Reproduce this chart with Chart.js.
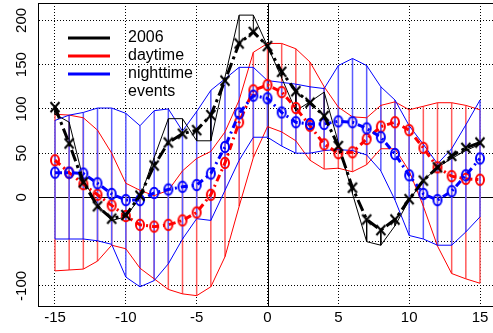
<!DOCTYPE html>
<html>
<head>
<meta charset="utf-8">
<script src="https://cdn.jsdelivr.net/npm/chart.js@4"></script>
<style>
  html, body { margin: 0; padding: 0; background: #fff; overflow: hidden; }
  canvas { display: block; }
</style>
</head>
<body>
<canvas id="myChart" width="497" height="333"></canvas>
<script>
const days = [-15, -14, -13, -12, -11, -10, -9, -8, -7, -6, -5, -4, -3, -2, -1, 0,
  1, 2, 3, 4, 5, 6, 7, 8, 9, 10, 11, 12, 13, 14, 15];

// centre lines
const events2006 = [102, 61, 17, -10, -24, -20, 2, 36, 62, 72, 76, 93, 132, 174, 187, 171,
  142, 120, 107, 92, 58, 11, -25, -37, -25, -2, 19, 34, 47, 56, 62];
const daytime = [42, 28, 15, 3, -9, -21, -31, -33, -31, -26, -17, 3, 39, 85, 121, 127,
  119, 101, 81, 60, 50, 51, 66, 80, 85, 76, 56, 34, 24, 21, 20];
const nighttime = [28, 28, 27, 16, 4, -3, -3, 5, 9, 12, 14, 27, 57, 95, 115, 112,
  96, 85, 83, 83, 86, 85, 78, 68, 49, 25, 4, -3, 7, 25, 44];

// ranges
const range2006 = [94, 85, 20, -8, -26, -22, 0, 45, 89, 89, 64, 64, 136, 206, 206, 171,
  135, 98, 108, 119, 62, 4, -50, -54, -32, -3, 19, 34, 44, 53, 60];
const dayHi = [94, 93, 90, 76, 50, 16, 8, 2, 8, 30, 44, 52, 74, 110, 164, 174,
  174, 168, 153, 125, 102, 91, 90, 104, 108, 99, 103, 107, 107, 104, 99];
const dayLo = [-83, -82, -81, -72, -54, -58, -80, -92, -104, -109, -111, -101, -67, -10, 45, 80,
  74, 64, 42, 32, 33, 29, 37, 55, 55, 30, -10, -55, -86, -92, -97];
const nightHi = [87, 93, 96, 101, 101, 95, 81, 98, 100, 75, 97, 121, 134, 147, 147, 132,
  130, 128, 125, 123, 149, 157, 149, 125, 110, 81, 60, 38, 55, 82, 110];
const nightLo = [-47, -47, -47, -49, -53, -90, -101, -94, -75, -47, -24, -26, 8, 42, 68, 68,
  58, 50, 50, 53, 54, 53, 48, 30, -3, -43, -47, -54, -54, -39, -22];

const xTicks = [-15, -10, -5, 0, 5, 10, 15];
const yTicks = [-100, -50, 0, 50, 100, 150, 200];
const yTickLabels = ['-100', '', '0', '50', '100', '150', '200'];
const legendLabels = ['2006', 'daytime', 'nighttime', 'events'];
const legendColors = ['#000000', '#ff0000', '#0000ff', null];

Chart.defaults.font.family = 'Liberation Sans';
Chart.defaults.color = '#000';

const pts = ys => days.map((x, i) => ({ x: x, y: ys[i] }));
// vertical hatch segments, broken by nulls
const sticks = (lo, hi) => days.flatMap((x, i) => [{ x: x, y: lo[i] }, { x: x, y: hi[i] }, { x: x, y: null }]);

function ring(color) {
  const c = document.createElement('canvas');
  c.width = 12; c.height = 14;
  const g = c.getContext('2d');
  g.strokeStyle = color;
  g.lineWidth = 2;
  g.beginPath();
  g.ellipse(6, 7, 4, 5.3, 0, 0, Math.PI * 2);
  g.stroke();
  return c;
}

function cross() {
  const c = document.createElement('canvas');
  c.width = 14; c.height = 14;
  const g = c.getContext('2d');
  g.strokeStyle = '#000';
  g.lineWidth = 2;
  g.beginPath();
  g.moveTo(2.5, 2); g.lineTo(11.5, 12);
  g.moveTo(11.5, 2); g.lineTo(2.5, 12);
  g.stroke();
  return c;
}

function legendLine(color) {
  const c = document.createElement('canvas');
  c.width = 42; c.height = 4;
  if (color) {
    const g = c.getContext('2d');
    g.fillStyle = color;
    g.fillRect(0, 0.5, 42, 3);
  }
  return c;
}

const thin = (label, data, color, order) => ({
  label: label, data: data, borderColor: color, borderWidth: 1,
  pointRadius: 0, spanGaps: false, order: order
});

const frame = {
  id: 'frame',
  beforeDatasetsDraw(chart) {
    const { ctx, chartArea: a, scales: { x, y } } = chart;
    const x0 = Math.round(x.getPixelForValue(0)) + 0.5;
    const y0 = Math.round(y.getPixelForValue(0)) + 0.5;
    ctx.save();
    ctx.strokeStyle = '#000';
    ctx.lineWidth = 1;
    ctx.beginPath();
    ctx.moveTo(x0, a.top); ctx.lineTo(x0, a.bottom);
    ctx.moveTo(a.left, y0); ctx.lineTo(a.right, y0);
    ctx.stroke();
    ctx.restore();
  },
  afterLayout(chart) {
    const a = chart.chartArea;
    chart.legend.left = a.left + 18;
    chart.legend.top = a.top + 25;
    chart.legend.right = a.right;
    chart.legend.bottom = a.bottom;
  },
  afterDraw(chart) {
    const { ctx, chartArea: a } = chart;
    ctx.save();
    ctx.strokeStyle = '#000';
    ctx.lineWidth = 1;
    ctx.beginPath();
    ctx.moveTo(a.left, Math.round(a.top) + 0.5);
    ctx.lineTo(a.right, Math.round(a.top) + 0.5);
    ctx.stroke();
    ctx.restore();
  }
};

const data = {
  datasets: [
    {
      label: '2006', data: pts(events2006), borderColor: '#000', borderWidth: 3,
      borderDash: [12, 4, 3, 4], pointStyle: cross(), pointRadius: 5, order: 1
    },
    {
      label: 'nighttime', data: pts(nighttime), borderColor: '#0000ff', borderWidth: 3,
      borderDash: [7, 4, 2, 4], pointStyle: ring('#0000ff'), pointRadius: 5, order: 2
    },
    {
      label: 'daytime', data: pts(daytime), borderColor: '#ff0000', borderWidth: 3,
      borderDash: [7, 4, 2, 4], pointStyle: ring('#ff0000'), pointRadius: 5, order: 3
    },
    thin('2006 range', pts(range2006), '#000', 4),
    thin('night high', pts(nightHi), '#0000ff', 5),
    thin('night low', pts(nightLo), '#0000ff', 5),
    thin('day high', pts(dayHi), '#ff0000', 6),
    thin('day low', pts(dayLo), '#ff0000', 6),
    thin('2006 sticks', sticks(events2006, range2006), '#000', 7),
    Object.assign(thin('night sticks', sticks(nightLo, nightHi), '#5a5aff', 8), { borderWidth: 1.5 }),
    Object.assign(thin('day sticks', sticks(dayLo, dayHi), '#ff5a5a', 9), { borderWidth: 1.5 })
  ]
};

const config = {
  type: 'line',
  data: data,
  options: {
    responsive: false,
    animation: false,
    devicePixelRatio: 1,
    layout: { autoPadding: false, padding: { top: 3, right: 0, bottom: 0, left: 0 } },
    elements: { line: { tension: 0, fill: false } },
    plugins: {
      tooltip: { enabled: false },
      legend: {
        position: 'chartArea',
        align: 'start',
        labels: {
          usePointStyle: true,
          pointStyleWidth: 62,
          padding: 2,
          color: '#000',
          font: { size: 16 },
          generateLabels: () => legendLabels.map((text, i) => ({
            text: text,
            pointStyle: legendLine(legendColors[i]),
            fillStyle: 'rgba(0,0,0,0)',
            strokeStyle: 'rgba(0,0,0,0)',
            lineWidth: 0,
            fontColor: '#000',
            hidden: false,
            datasetIndex: i
          }))
        }
      }
    },
    scales: {
      x: {
        type: 'linear',
        min: -16.2,
        max: 16.2,
        afterBuildTicks: s => { s.ticks = xTicks.map(v => ({ value: v })); },
        afterFit: s => { s.height = 27; s.paddingLeft = 0; s.paddingRight = 0; },
        grid: { color: '#000', drawTicks: false },
        border: { color: '#000', width: 1, dash: [1, 2] },
        ticks: {
          autoSkip: false, maxRotation: 0, padding: 3, color: '#000',
          font: { size: 15 },
          callback: v => String(v)
        }
      },
      y: {
        type: 'linear',
        min: -122.7,
        max: 219.7,
        afterBuildTicks: s => { s.ticks = yTicks.map(v => ({ value: v })); },
        afterFit: s => { s.width = 38; s.paddingTop = 0; s.paddingBottom = 0; },
        grid: { color: '#000', drawTicks: false },
        border: { color: '#000', width: 1, dash: [1, 2] },
        ticks: {
          autoSkip: false, minRotation: 90, maxRotation: 90, crossAlign: 'center',
          padding: 1, color: '#000', font: { size: 15 },
          callback: v => yTickLabels[yTicks.indexOf(v)]
        }
      }
    }
  },
  plugins: [frame]
};

const myChart = new Chart(
  document.getElementById('myChart'),
  config
);
</script>
</body>
</html>
